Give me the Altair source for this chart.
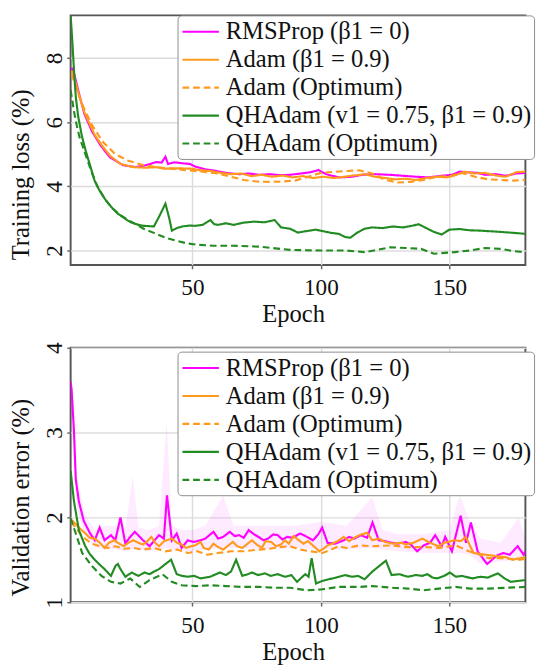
import altair as alt
import pandas as pd

LABELS = ["RMSProp (β1 = 0)", "Adam (β1 = 0.9)", "Adam (Optimum)",
          "QHAdam (v1 = 0.75, β1 = 0.9)", "QHAdam (Optimum)"]
COLORS = ["#ff00ff", "#ff9a1e", "#ff9a1e", "#228b22", "#228b22"]
DASHES = [[1, 0], [1, 0], [7, 4], [1, 0], [7, 4]]
X_TICKS = [50, 100, 150]

# ---------------- training loss (%) : (epoch, value) ----------------
loss_rms = [(3, 7.7), (4, 7.5), (6, 6.85), (8, 6.25), (11, 5.7), (14.5, 5.25), (18, 4.9),
            (23, 4.66), (28, 4.6), (32, 4.66), (36, 4.76), (38, 4.74), (39.5, 4.92), (40.5, 4.7),
            (43, 4.75), (46, 4.72), (49, 4.7), (51, 4.62), (55, 4.53), (58, 4.5), (63, 4.42),
            (68, 4.38), (72, 4.4), (76, 4.36), (80, 4.38), (84, 4.35), (88, 4.36), (92, 4.4),
            (96, 4.44), (99, 4.51), (102, 4.38), (107, 4.28), (112, 4.3), (116, 4.36), (121, 4.38),
            (127, 4.36), (132, 4.33), (137, 4.3), (142, 4.28), (147, 4.33), (151, 4.36), (154, 4.46),
            (157, 4.44), (161, 4.42), (164, 4.36), (168, 4.38), (172, 4.33), (176, 4.4), (180, 4.42)]
loss_adam = [(3, 7.6), (4, 7.4), (6, 6.8), (8, 6.3), (10, 5.95), (12, 5.6), (15, 5.25), (18, 4.95),
             (22, 4.7), (27, 4.6), (32, 4.58), (36, 4.6), (39, 4.55), (42, 4.56), (46, 4.56),
             (50, 4.55), (53, 4.5), (57, 4.48), (61, 4.42), (65, 4.38), (69, 4.4), (73, 4.32),
             (77, 4.36), (81, 4.3), (85, 4.34), (89, 4.28), (93, 4.32), (97, 4.26), (101, 4.3),
             (105, 4.26), (109, 4.3), (113, 4.34), (117, 4.38), (121, 4.3), (125, 4.26), (129, 4.22),
             (133, 4.24), (137, 4.2), (141, 4.26), (145, 4.3), (149, 4.28), (152, 4.34), (156, 4.46),
             (160, 4.4), (164, 4.42), (168, 4.34), (172, 4.3), (176, 4.44), (180, 4.46)]
loss_adam_opt = [(3, 7.5), (5, 7.0), (8, 6.4), (11, 5.9), (15, 5.4), (20, 5.0), (25, 4.8), (31, 4.66),
                 (36, 4.6), (42, 4.55), (48, 4.5), (54, 4.46), (60, 4.4), (65, 4.3), (70, 4.2),
                 (75, 4.15), (80, 4.14), (85, 4.15), (90, 4.18), (95, 4.3), (100, 4.42), (105, 4.45),
                 (110, 4.48), (115, 4.5), (120, 4.4), (125, 4.2), (130, 4.12), (135, 4.14), (140, 4.2),
                 (145, 4.3), (150, 4.32), (155, 4.42), (160, 4.3), (165, 4.22), (170, 4.2), (175, 4.18),
                 (180, 4.2)]
loss_qh = [(2.6, 9.6), (3.2, 8.6), (4, 7.5), (4.6, 6.8), (5.5, 6.2), (7, 5.56), (8.5, 5.1), (10, 4.7),
           (12, 4.16), (14, 3.85), (16, 3.6), (18.5, 3.35), (21, 3.15), (24, 2.98), (26, 2.88),
           (29, 2.8), (31, 2.77), (35, 2.75), (37, 3.05), (39.5, 3.46), (41, 3.0), (42, 2.62),
           (44, 2.7), (46, 2.75), (49, 2.78), (51, 2.77), (54, 2.8), (57, 2.95), (58.5, 2.82),
           (60, 2.8), (63, 2.85), (66, 2.8), (70, 2.87), (74, 2.9), (78, 2.88), (82, 2.95),
           (84.5, 2.72), (88, 2.68), (91, 2.56), (94, 2.6), (98, 2.65), (101, 2.6), (104, 2.55),
           (107, 2.52), (109.5, 2.42), (111.5, 2.4), (114, 2.55), (117, 2.68), (120, 2.72),
           (124, 2.7), (128, 2.75), (132, 2.72), (136, 2.78), (138, 2.82), (141, 2.7), (144, 2.58),
           (147, 2.5), (150, 2.65), (154, 2.67), (158, 2.63), (162, 2.62), (166, 2.6), (170, 2.58),
           (175, 2.55), (180, 2.52)]
loss_qh_opt = [(2.6, 7.0), (4, 6.3), (5, 5.9), (6, 5.55), (7.5, 5.2), (9, 4.85), (11, 4.4), (13, 4.0),
               (16, 3.6), (19, 3.3), (22, 3.1), (25, 2.95), (28, 2.82), (31, 2.68), (35, 2.55),
               (39.5, 2.4), (44, 2.3), (48, 2.22), (52, 2.18), (58, 2.15), (66, 2.15), (76, 2.12),
               (88, 2.02), (100, 2.0), (110, 2.0), (117, 1.95), (122, 2.02), (127, 2.1), (133, 2.08),
               (139, 2.05), (144, 1.9), (152, 1.95), (158, 2.0), (164, 2.08), (170, 2.05), (175, 1.98),
               (180, 1.95)]

# ---------------- validation error (%) : (epoch, value) ----------------
val_rms = [(2.6, 3.6), (3, 3.5), (3.9, 3.02), (4.6, 2.45), (5.8, 2.19), (7.7, 1.96), (10.2, 1.81),
           (12, 1.73), (13.9, 1.88), (15.8, 1.73), (18.3, 1.79), (20, 1.73), (22, 2.0), (23.9, 1.69),
           (25.5, 1.76), (27.6, 1.83), (30.8, 1.73), (33.3, 1.66), (37, 1.79), (38.9, 1.75),
           (40.1, 2.26), (42, 1.73), (43.9, 1.81), (45.8, 1.64), (48.2, 1.73), (50.7, 1.71),
           (53.2, 1.73), (55, 1.75), (58.2, 1.83), (60, 1.75), (62, 1.77), (64.5, 1.83), (66.5, 1.78),
           (68.2, 1.79), (70, 1.76), (71.9, 1.85), (74, 1.8), (75.7, 1.77), (77.7, 1.73), (79.4, 1.75),
           (81.5, 1.8), (83.2, 1.79), (85, 1.74), (86.9, 1.77), (89, 1.76), (91.9, 1.81), (94, 1.78),
           (96.9, 1.73), (99, 1.8), (100.5, 1.88), (102.6, 1.7), (105.6, 1.69), (108.9, 1.73),
           (111, 1.77), (113, 1.75), (115.6, 1.79), (118, 1.76), (120.1, 1.94), (122.5, 1.73),
           (125, 1.72), (127.5, 1.7), (130, 1.69), (133, 1.71), (135, 1.68), (137.5, 1.6),
           (140, 1.67), (142.5, 1.7), (144.5, 1.79), (147, 1.66), (148.4, 1.77), (151, 1.6),
           (154.4, 2.02), (156.5, 1.7), (158.4, 1.94), (161, 1.6), (164.7, 1.45), (168.5, 1.55),
           (171, 1.58), (173.5, 1.56), (176.6, 1.66), (178.9, 1.56), (180, 1.6)]
val_adam = [(2.6, 1.98), (4.6, 1.92), (6.5, 1.86), (8.4, 1.81), (10, 1.76), (12, 1.75), (14, 1.7),
            (15.8, 1.64), (17.5, 1.7), (19.6, 1.73), (21.5, 1.69), (23.3, 1.66), (25, 1.7), (27, 1.73),
            (29, 1.7), (30.8, 1.68), (32.5, 1.72), (34, 1.77), (35.5, 1.7), (37, 1.66), (39, 1.72),
            (42, 1.75), (44, 1.7), (45.8, 1.68), (47.5, 1.64), (49.5, 1.66), (51, 1.67), (53.2, 1.71),
            (54.4, 1.64), (56.4, 1.62), (58.2, 1.69), (60, 1.65), (62, 1.62), (64, 1.67), (65.7, 1.71),
            (67.5, 1.66), (69.4, 1.64), (71.5, 1.69), (73.2, 1.73), (75, 1.68), (77, 1.64),
            (78.5, 1.72), (80.7, 1.71), (82.5, 1.66), (84.5, 1.68), (86, 1.73), (87.5, 1.69),
            (89.4, 1.78), (91, 1.74), (93.2, 1.69), (95, 1.72), (97.6, 1.65), (99.4, 1.6), (101, 1.63),
            (102.6, 1.67), (104.4, 1.69), (106.5, 1.72), (108.9, 1.77), (111, 1.72), (113, 1.76),
            (115, 1.79), (118, 1.82), (120, 1.73), (122.5, 1.75), (125, 1.71), (128, 1.69),
            (131.4, 1.7), (133, 1.68), (136, 1.7), (139.5, 1.75), (142.5, 1.7), (145.7, 1.66),
            (148, 1.7), (151.9, 1.73), (154.5, 1.72), (156.4, 1.77), (159.4, 1.58), (162, 1.57),
            (164, 1.56), (166.5, 1.55), (169, 1.54), (172, 1.53), (174.6, 1.5), (177.6, 1.52),
            (180, 1.53)]
val_adam_opt = [(2.6, 1.95), (4.6, 1.88), (7, 1.78), (10.8, 1.69), (14, 1.66), (17, 1.64), (20, 1.66),
                (23.3, 1.63), (27, 1.64), (30.8, 1.62), (35, 1.64), (39.5, 1.6), (44, 1.62),
                (48.2, 1.58), (52, 1.6), (55.7, 1.56), (60, 1.58), (65, 1.6), (70, 1.6), (75.7, 1.62),
                (80, 1.63), (84, 1.65), (88, 1.66), (92, 1.62), (96, 1.6), (100.6, 1.58), (104, 1.62),
                (106.9, 1.66), (110, 1.64), (115, 1.67), (120, 1.66), (127.5, 1.67), (133, 1.65),
                (140, 1.65), (146, 1.64), (152.5, 1.67), (157.6, 1.6), (161, 1.57), (165.2, 1.52),
                (170, 1.52), (177.6, 1.5), (180, 1.51)]
val_qh = [(2.6, 2.55), (3.9, 2.19), (5.8, 1.85), (8.3, 1.66), (10, 1.57), (12, 1.5), (14, 1.44),
          (15.8, 1.39), (18.3, 1.31), (20.1, 1.43), (21, 1.45), (22, 1.39), (23.9, 1.3), (26.4, 1.35),
          (28.9, 1.31), (31.4, 1.35), (33.3, 1.33), (35, 1.36), (37, 1.39), (39.5, 1.45), (41.7, 1.5),
          (43.9, 1.33), (46, 1.31), (48.2, 1.3), (50.7, 1.31), (53.2, 1.28), (56.9, 1.3), (60.7, 1.35),
          (63, 1.32), (65, 1.36), (67, 1.5), (69.4, 1.31), (71.5, 1.33), (73.2, 1.35), (75.5, 1.32),
          (78.2, 1.34), (80.5, 1.31), (83.2, 1.33), (86, 1.3), (88.5, 1.32), (90.7, 1.24),
          (93.9, 1.33), (95.2, 1.3), (96.4, 1.52), (98.1, 1.22), (100.5, 1.25), (103, 1.27),
          (106, 1.29), (109.4, 1.32), (112, 1.3), (114.5, 1.31), (117, 1.27), (120, 1.36),
          (125.3, 1.49), (127.5, 1.32), (130.5, 1.33), (133.9, 1.3), (137, 1.32), (139.5, 1.31),
          (141.4, 1.33), (143.5, 1.29), (145.2, 1.28), (148, 1.31), (150.2, 1.35), (152.5, 1.3),
          (155, 1.31), (158.9, 1.28), (162, 1.3), (165, 1.29), (168.9, 1.34), (171.5, 1.28),
          (173.9, 1.24), (176.5, 1.25), (180, 1.26)]
val_qh_opt = [(2.6, 1.99), (4.6, 1.81), (7.1, 1.58), (10.8, 1.43), (14.6, 1.31), (18.3, 1.24),
              (22, 1.22), (25.8, 1.28), (29.5, 1.18), (33.3, 1.26), (38.3, 1.33), (42, 1.24),
              (45.8, 1.2), (51.3, 1.19), (57, 1.2), (63, 1.19), (69.4, 1.18), (76, 1.18), (82, 1.17),
              (88, 1.17), (94.4, 1.14), (100, 1.15), (107, 1.18), (115, 1.18), (120, 1.19),
              (128, 1.17), (134, 1.16), (140, 1.14), (146, 1.16), (152.5, 1.18), (158, 1.16),
              (165, 1.16), (172, 1.17), (180, 1.18)]
# faint spread band of RMSProp validation error : (epoch, low, high)
val_rms_band = [(2.6, 3.3, 3.9), (5, 2.1, 2.5), (8, 1.8, 2.05), (12, 1.65, 1.85), (16, 1.62, 1.9),
                (20, 1.62, 1.9), (24, 1.6, 1.88), (26.8, 1.62, 2.49), (29, 1.62, 1.88), (33, 1.6, 1.85),
                (37, 1.62, 1.9), (40, 1.64, 3.13), (42, 1.62, 1.9), (46, 1.6, 1.85), (50, 1.6, 1.85),
                (55, 1.62, 1.9), (62, 1.64, 2.26), (66, 1.64, 1.9), (70, 1.64, 1.9), (80, 1.62, 1.9),
                (90, 1.64, 1.9), (100, 1.62, 1.95), (110, 1.62, 1.9), (120, 1.64, 2.24), (124, 1.62, 1.85),
                (130, 1.6, 1.8), (140, 1.58, 1.8), (150, 1.58, 1.85), (154, 1.58, 2.26),
                (158, 1.56, 1.95), (162, 1.45, 1.75), (170, 1.48, 1.7), (177, 1.5, 2.0), (180, 1.52, 1.75)]

X_DOMAIN = [2.6, 179.6]
PLOT_W = 472
FONT = "Liberation Serif"


def frame(series_list):
    rows = []
    for k, (label, pts) in enumerate(zip(LABELS, series_list)):
        for e, v in pts:
            rows.append({"series": label, "k": k, "epoch": e, "value": v})
    return pd.DataFrame(rows)


def legend(ly):
    return alt.Legend(title=None, orient="none", legendX=111, legendY=ly,
                      symbolType="M-1.4,0H1.4", symbolSize=729, symbolStrokeWidth=2.2,
                      symbolOffset=7, labelOffset=11,
                      labelFontSize=25.5, labelFont=FONT, labelColor="#111", labelLimit=0,
                      padding=2, rowPadding=0,
                      fillColor="white", strokeColor="#8a8a8a", cornerRadius=4)


def x_enc():
    return alt.X("epoch:Q", scale=alt.Scale(domain=X_DOMAIN, nice=False, zero=False, clamp=True),
                 axis=alt.Axis(values=X_TICKS, title="Epoch", titleX=231, titlePadding=3))


def y_scale(ydom):
    return alt.Scale(domain=ydom, nice=False, zero=False, clamp=True)


def y_axis(yticks, ytitle, ty):
    return alt.Axis(values=yticks, format="d", title=ytitle, labelAngle=-90,
                    labelAlign="center", labelBaseline="alphabetic", labelPadding=5.5,
                    titleX=-44, titleY=ty, titleBaseline="alphabetic", titleAngle=270)


def lines(df, ydom, yticks, ytitle, h, ly, ty):
    return alt.Chart(df).mark_line(strokeWidth=2.2, clip=True).encode(
        x=x_enc(),
        y=alt.Y("value:Q", scale=y_scale(ydom), axis=y_axis(yticks, ytitle, ty)),
        color=alt.Color("series:N", scale=alt.Scale(domain=LABELS, range=COLORS), legend=legend(ly)),
        strokeDash=alt.StrokeDash("series:N", scale=alt.Scale(domain=LABELS, range=DASHES),
                                  legend=legend(ly)),
        order=alt.Order("k:Q"),
    ).properties(width=PLOT_W, height=h)


top = lines(frame([loss_rms, loss_adam, loss_adam_opt, loss_qh, loss_qh_opt]),
            [1.55, 9.33], [2, 4, 6, 8], "Training loss (%)", 259, 0, 165)

band_df = pd.DataFrame(val_rms_band, columns=["epoch", "low", "high"])
band = alt.Chart(band_df).mark_area(color=COLORS[0], opacity=0.08, clip=True).encode(
    x=x_enc(),
    y=alt.Y("low:Q", scale=y_scale([1, 4]),
            axis=y_axis([1, 2, 3, 4], "Validation error (%)", 155)),
    y2="high:Q",
)
bottom_lines = lines(frame([val_rms, val_adam, val_adam_opt, val_qh, val_qh_opt]),
                     [1, 4], [1, 2, 3, 4], "Validation error (%)", 264, 4, 155)
bottom = alt.layer(band, bottom_lines).properties(width=PLOT_W, height=264)

chart = alt.vconcat(top, bottom, spacing=12).resolve_scale(
    color="independent", strokeDash="independent"
).properties(padding={"top": -7, "left": 0, "right": 0, "bottom": 0}).configure(font=FONT).configure_axis(
    labelFont=FONT, titleFont=FONT, labelFontSize=24, titleFontSize=25.5,
    labelColor="#111", titleColor="#111", titleFontWeight="normal",
    gridColor="#dcdcdc", gridWidth=1.5, domain=False,
    tickColor="#666", tickSize=4, tickWidth=1.5,
).configure_axisX(labelPadding=8).configure_view(stroke="#555", strokeWidth=2)

chart.save("out.html", embed_options={"renderer": "svg", "actions": False})
